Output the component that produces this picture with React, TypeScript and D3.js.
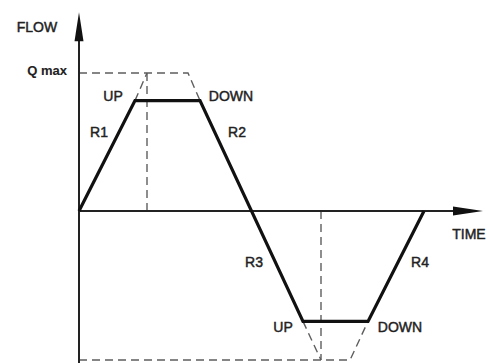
import React from "react";
import * as d3 from "d3";

// Flow profile (time units, flow as fraction of Q max)
const profileT = [0, 5.6, 12.1, 22.4, 28.9, 34.5];
const profileQ = [0, 0.8, 0.8, -0.8, -0.8, 0];

// Dashed theoretical (unlimited) ramps
const qMaxLineT = [0, 10.9, 12.1];
const qMaxLineQ = [1, 1, 0.8];
const upTopT = [5.6, 6.8];
const upTopQ = [0.8, 1];
const peakT = 6.8;
const qMinLineT = [0, 27.1, 28.9];
const qMinLineQ = [-1.08, -1.08, -0.8];
const upBotT = [22.4, 24.2];
const upBotQ = [-0.8, -1.08];
const troughT = 24.2;

// Labels
const labelText = ["FLOW", "Q max", "UP", "DOWN", "R1", "R2", "R3", "R4", "UP", "DOWN", "TIME"];
const labelT = [-4.2, -1.2, 3.4, 15.2, 2.0, 15.8, 17.5, 34.1, 20.4, 32.1, 39.0];
const labelQ = [1.33, 1.02, 0.83, 0.83, 0.57, 0.57, -0.37, -0.37, -0.84, -0.84, -0.17];
const labelAnchor = ["middle", "end", "middle", "middle", "middle", "middle", "middle", "middle", "middle", "middle", "middle"];
const labelBold = [false, true, false, false, false, false, false, false, false, false, false];

const W = 489;
const H = 363;

export default function App() {
  const x = d3.scaleLinear().domain([0, 40.4]).range([79, 483]);
  const y = d3.scaleLinear().domain([0, 1]).range([211, 73]);
  const line = d3
    .line<[number, number]>()
    .x((d) => x(d[0]))
    .y((d) => y(d[1]));
  const zip = (a: number[], b: number[]) => a.map((v, i) => [v, b[i]] as [number, number]);

  const dashStyle = { fill: "none", stroke: "#5e5e5e", strokeWidth: 1.4, strokeDasharray: "8,5" };
  const yTop = y(1.44);
  const xEnd = x(40.4);

  return (
    <svg
      width={W}
      height={H}
      style={{ position: "absolute", left: 0, top: 0, background: "#fff" }}
      fontFamily="Liberation Sans, Arial, sans-serif"
    >
      <rect width={W} height={H} fill="#fff" />
      {/* dashed guides */}
      <path d={line(zip(qMaxLineT, qMaxLineQ)) || ""} {...dashStyle} />
      <path d={line(zip(upTopT, upTopQ)) || ""} {...dashStyle} />
      <path d={line([[peakT, 1], [peakT, 0]]) || ""} {...dashStyle} />
      <path d={line(zip(qMinLineT, qMinLineQ)) || ""} {...dashStyle} />
      <path d={line(zip(upBotT, upBotQ)) || ""} {...dashStyle} />
      <path d={line([[troughT, 0], [troughT, -1.08]]) || ""} {...dashStyle} />

      {/* axes */}
      <line x1={x(0)} x2={x(0)} y1={H} y2={yTop + 20} stroke="#222" strokeWidth={2} />
      <path d={`M${x(0)},${yTop} L${x(0) - 4.5},${yTop + 29} L${x(0) + 4.5},${yTop + 29} Z`} fill="#111" />
      <line x1={x(0)} x2={xEnd - 20} y1={y(0)} y2={y(0)} stroke="#222" strokeWidth={2} />
      <path d={`M${xEnd},${y(0)} L${xEnd - 30},${y(0) - 4.5} L${xEnd - 30},${y(0) + 4.5} Z`} fill="#111" />

      {/* profile */}
      <path
        d={line(zip(profileT, profileQ)) || ""}
        fill="none"
        stroke="#111"
        strokeWidth={3.2}
        strokeLinejoin="miter"
      />

      {labelText.map((t, i) => (
        <text
          key={i}
          x={x(labelT[i])}
          y={y(labelQ[i])}
          textAnchor={labelAnchor[i]}
          dominantBaseline="central"
          fontSize={labelBold[i] ? 13 : 14}
          fontWeight={labelBold[i] ? "bold" : "normal"}
          fill="#222"
          stroke="#222"
          strokeWidth={labelBold[i] ? 0.1 : 0.45}
        >
          {t}
        </text>
      ))}
    </svg>
  );
}
